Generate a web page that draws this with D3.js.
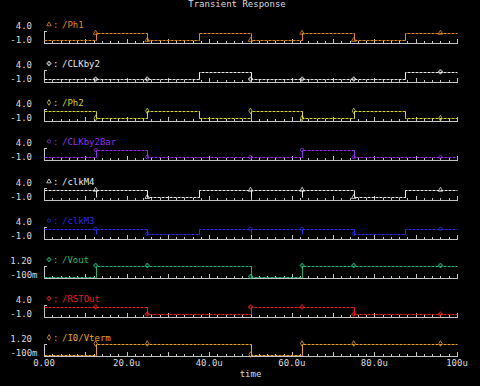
<!DOCTYPE html>
<html><head><meta charset="utf-8">
<script src="https://cdn.jsdelivr.net/npm/d3@7"></script>
<style>
body{margin:0;background:#000;}
svg{display:block;background:#000;}
text{font-family:"DejaVu Sans Mono",monospace;}
</style>
</head><body>
<svg id="c" width="480" height="386"></svg>
<script>
// ---- data ----
const title = "Transient Response";
const xLabel = "time";
const edgeTimes = [0, 12.5, 25, 37.5, 50, 62.5, 75, 87.5]; // µs, start of each interval
const endTime = 100;
const signalNames = ["/Ph1", "/CLKby2", "/Ph2", "/CLKby2Bar", "/clkM4", "/clkM3", "/Vout", "/RSTOut", "/I0/Vterm"];
const ph1       = [0, 3, 0, 3, 0, 3, 0, 3];
const clkby2    = [0, 0, 0, 3, 0, 0, 0, 3];
const ph2       = [3, 0, 3, 0, 3, 0, 3, 0];
const clkby2bar = [0, 3, 0, 0, 0, 3, 0, 0];
const clkm4     = [3, 3, 0, 3, 3, 3, 0, 3];
const clkm3     = [3, 3, 1, 3, 3, 3, 1, 3];
const vout      = [0, 1.2, 1.2, 1.2, 0, 1.2, 1.2, 1.2];
const rstout    = [3, 3, 0, 0, 3, 3, 0, 0];
const vterm     = [0, 1.2, 1.2, 1.2, 0, 1.2, 1.2, 1.2];
const seriesValues = [ph1, clkby2, ph2, clkby2bar, clkm4, clkm3, vout, rstout, vterm];
const glitchTimes = [[], [], [], [], [12.5, 50, 62.5], [12.5, 50, 62.5], [], [], []];
const glitchLevels = [0, 0, 0, 0, 0, 1, 0, 0, 0];
const yDomains = [[-1,4],[-1,4],[-1,4],[-1,4],[-1,4],[-1,4],[-0.1,1.2],[-1,4],[-0.1,1.2]];
const yTickLabels = [["4.0","-1.0"],["4.0","-1.0"],["4.0","-1.0"],["4.0","-1.0"],["4.0","-1.0"],["4.0","-1.0"],["1.20","-100m"],["4.0","-1.0"],["1.20","-100m"]];
const xTickValues = [0, 20, 40, 60, 80, 100];
const xTickLabels = ["0.00", "20.0u", "40.0u", "60.0u", "80.0u", "100u"];
const markerTimes = [12.5, 25, 50, 62.5, 75, 96];
const colors = ["#e08a1e", "#e8e8e8", "#d4d430", "#8f30e8", "#e8e8e8", "#2c2ce0", "#20b878", "#e02424", "#e8a420"];
const symbolTypes = [d3.symbolTriangle, d3.symbolCross, d3.symbolDiamond, d3.symbolCircle, d3.symbolTriangle, d3.symbolCircle, d3.symbolCross, d3.symbolCross, d3.symbolDiamond];

// ---- layout ----
const svg = d3.select("#c");
const x = d3.scaleLinear().domain([0, endTime]).range([44, 457]);
const axisColor = "#c4c4c4";
const textColor = "#dcdcdc";

svg.append("text").attr("x", 237).attr("y", 6.5).attr("text-anchor", "middle")
  .attr("font-size", 9).attr("fill", textColor).text(title);

const minorTicks = d3.range(0, 101, 2);
const majorTicks = d3.range(0, 101, 10);

signalNames.forEach((name, i) => {
  const axisY = Math.round(42 + i * 39.125) + 0.5;
  const y = d3.scaleLinear().domain(yDomains[i]).range([axisY, axisY - 12]);
  const g = svg.append("g");
  const col = colors[i];

  // bottom axis with ticks pointing up
  const ax1 = g.append("g").attr("transform", `translate(0,${axisY})`)
    .call(d3.axisTop(x).tickValues(minorTicks).tickSize(2).tickSizeOuter(0).tickFormat(""));
  const ax2 = g.append("g").attr("transform", `translate(0,${axisY})`)
    .call(d3.axisTop(x).tickValues(majorTicks).tickSize(4).tickSizeOuter(0).tickFormat(""));
  [ax1, ax2].forEach(a => { a.selectAll("path,line").attr("stroke", axisColor).attr("shape-rendering", "crispEdges"); });

  // left bracket
  const ay = g.append("g").attr("transform", `translate(${x(0)},0)`)
    .call(d3.axisRight(y).tickValues(yDomains[i]).tickSize(3).tickSizeOuter(0).tickFormat(""));
  ay.selectAll("path,line").attr("stroke", axisColor).attr("shape-rendering", "crispEdges");

  // y labels
  g.append("text").attr("x", 32).attr("y", axisY - 17).attr("dy", "0.35em").attr("text-anchor", "end")
    .attr("font-size", 9).attr("fill", textColor).text(yTickLabels[i][0]);
  const lowLab = yTickLabels[i][1];
  g.append("text").attr("x", lowLab.endsWith("m") ? 37.5 : 32).attr("y", axisY - 2.5).attr("dy", "0.35em").attr("text-anchor", "end")
    .attr("font-size", 9).attr("fill", textColor).text(lowLab);

  // legend
  g.append("path").attr("d", d3.symbol().type(symbolTypes[i]).size(9)())
    .attr("transform", `translate(49,${axisY - 18})`).attr("fill", "none").attr("stroke", col).attr("stroke-width", 0.8);
  g.append("text").attr("x", 53).attr("y", axisY - 18).attr("dy", "0.35em").attr("font-size", 9).attr("fill", col).text(":");
  g.append("text").attr("x", 62).attr("y", axisY - 18).attr("dy", "0.35em").attr("font-size", 9).attr("fill", col).text(name);

  // waveform
  const vals = seriesValues[i];
  const pts = edgeTimes.map((t, k) => [t, vals[k]]);
  pts.push([endTime, vals[vals.length - 1]]);
  const valueAt = t => { let v = vals[0]; edgeTimes.forEach((e, k) => { if (t >= e) v = vals[k]; }); return v; };

  const line = d3.line().x(d => Math.round(x(d[0])) + 0.5).y(d => Math.round(y(d[1])) + 0.5).curve(d3.curveStepAfter);
  g.append("path").datum(pts).attr("d", line).attr("fill", "none").attr("stroke", col)
    .attr("stroke-width", 1).attr("stroke-dasharray", "3,1");

  // solid vertical transitions
  const trans = edgeTimes.slice(1).map((t, k) => ({ t, a: vals[k], b: vals[k + 1] })).filter(d => d.a !== d.b);
  g.selectAll(null).data(trans).join("line")
    .attr("x1", d => Math.round(x(d.t)) + 0.5).attr("x2", d => Math.round(x(d.t)) + 0.5)
    .attr("y1", d => Math.round(y(d.a)) + 0.5).attr("y2", d => Math.round(y(d.b)) + 0.5)
    .attr("stroke", col).attr("stroke-width", 1);

  // glitches
  g.selectAll(null).data(glitchTimes[i]).join("line")
    .attr("x1", t => Math.round(x(t)) + 0.5).attr("x2", t => Math.round(x(t)) + 0.5)
    .attr("y1", t => Math.round(y(valueAt(t))) + 0.5).attr("y2", () => Math.round(y(glitchLevels[i])) + 0.5)
    .attr("stroke", col).attr("stroke-width", 1);

  // markers
  g.selectAll(null).data(markerTimes).join("path")
    .attr("d", d3.symbol().type(symbolTypes[i]).size(9)())
    .attr("transform", t => `translate(${x(t)},${y(valueAt(t))})`)
    .attr("fill", "none").attr("stroke", col).attr("stroke-width", 0.8);

  // x tick labels on last strip
  if (i === signalNames.length - 1) {
    g.selectAll(null).data(xTickValues).join("text")
      .attr("x", d => x(d)).attr("y", axisY + 7).attr("dy", "0.35em").attr("text-anchor", "middle")
      .attr("font-size", 9).attr("fill", textColor).text((d, k) => xTickLabels[k]);
    g.append("text").attr("x", (x(0) + x(endTime)) / 2).attr("y", axisY + 18).attr("dy", "0.35em")
      .attr("text-anchor", "middle").attr("font-size", 9).attr("fill", textColor).text(xLabel);
  }
});
</script>
</body></html>
